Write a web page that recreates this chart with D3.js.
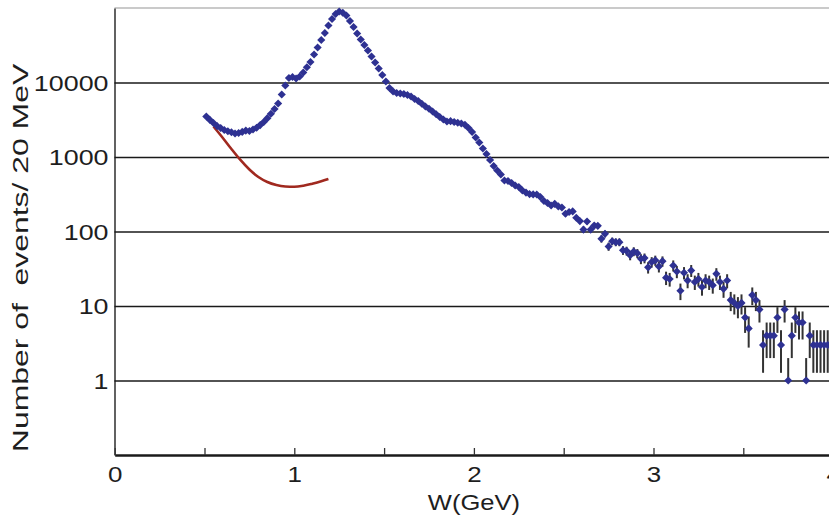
<!DOCTYPE html>
<html>
<head>
<meta charset="utf-8">
<script src="https://cdn.jsdelivr.net/npm/d3@7"></script>
<style>
  html, body { margin: 0; padding: 0; background: #fff; overflow: hidden; }
  svg { display: block; }
  text { font-family: "Liberation Sans", Arial, Helvetica, sans-serif; fill: #1e1e1e; }
</style>
</head>
<body>
<svg id="chart" width="829" height="516"></svg>
<script>
// Invariant-mass histogram, 20 MeV bins starting at W = 0.50 GeV (bin centres 0.51, 0.53, ...)
const firstBin = 0.51;
const binWidth = 0.02;
const counts = [
  3500, 3150, 2860, 2600, 2450, 2300, 2220, 2150, 2070, 2100,
  2170, 2260, 2230, 2340, 2470, 2680, 2950, 3320, 3800, 4410,
  5220, 6900, 9120, 11490, 11860, 11320, 12040, 13630, 16050, 18840,
  23760, 29500, 37170, 46150, 58210, 71140, 83030, 89740, 86240, 79290,
  66930, 55630, 45470, 37770, 31860, 26900, 22340, 18550, 15410, 12610,
  10310, 8440, 7570, 7230, 7120, 7010, 6800, 6490, 6010, 5650,
  5180, 4765, 4437, 4083, 3754, 3443, 3186, 2996, 3025, 2953,
  2886, 2817, 2705, 2449, 2166, 1828, 1566, 1301, 1097, 912,
  757, 659, 582, 484, 476, 448, 414, 395, 355, 333,
  318, 315, 314, 290, 257, 241, 223, 235, 217, 210,
  173, 183, 186, 153, 138, 106, 136, 106, 120, 119,
  80, 93, 63, 74, 72, 72, 56, 55, 48, 54,
  51, 43, 44, 33, 39, 41, 34, 40, 24, 23,
  35, 29, 16, 28, 22, 30, 21, 23, 18, 22,
  21, 19, 27, 21, 17, 22, 12, 11, 10, 11,
  7, 5, 14, 12, 9, 3, 4, 4, 4, 7,
  3, 9, 1, 4, 7, 6, 6, 1, 4, 3,
  3, 3, 3, 3
];

// Background estimate below 1.2 GeV
const curveW = [0.55, 0.60, 0.65, 0.70, 0.75, 0.80, 0.85, 0.90, 0.95, 1.00, 1.05, 1.10, 1.15, 1.19];
const curveN = [2570, 1830, 1280, 912, 679, 539, 462, 421, 402, 398, 411, 438, 472, 507];

const xTickValues = [0, 0.5, 1, 1.5, 2, 2.5, 3, 3.5, 4];
const yTickValues = [1, 10, 100, 1000, 10000];
const yLabels = ["1", "10", "100", "1000", "10000"];

const W = 829, H = 516;
const plotLeft = 114.5, plotBottom = 455, plotTop = 8;

const svg = d3.select("#chart");

const x = d3.scaleLinear().domain([0, 4]).range([114.7, 833.1]);
const y = d3.scaleLog().domain([0.1, 1e5]).range([plotBottom, plotTop]);

// top frame line
svg.append("line")
  .attr("x1", plotLeft).attr("x2", W)
  .attr("y1", y(1e5)).attr("y2", y(1e5))
  .attr("stroke", "#b8b8b8").attr("stroke-width", 1.5);

// y axis with full-width grid lines
const yAxis = svg.append("g")
  .attr("transform", `translate(${plotLeft},0)`)
  .call(d3.axisLeft(y)
    .tickValues(yTickValues)
    .tickSizeInner(-(W - plotLeft))
    .tickSizeOuter(0)
    .tickPadding(6)
    .tickFormat((d, i) => yLabels[i]));
yAxis.select(".domain").attr("stroke", "#3a3a3a").attr("stroke-width", 1.6);
yAxis.selectAll(".tick line").attr("stroke", "#1a1a1a").attr("stroke-width", 1.3);
yAxis.selectAll(".tick text")
  .attr("font-size", 22)
  .attr("fill", "#1e1e1e")
  .attr("dy", "0.36em");

// x axis with inward ticks
const xAxis = svg.append("g")
  .attr("transform", `translate(0,${plotBottom})`)
  .call(d3.axisBottom(x)
    .tickValues(xTickValues)
    .tickSizeInner(-7)
    .tickSizeOuter(0)
    .tickPadding(11)
    .tickFormat(d => Number.isInteger(d) ? String(d) : ""));
xAxis.select(".domain").attr("stroke", "#1a1a1a").attr("stroke-width", 2.6);
xAxis.selectAll(".tick line").attr("stroke", "#333").attr("stroke-width", 1.3);
xAxis.selectAll(".tick text")
  .attr("font-size", 22)
  .attr("fill", "#1e1e1e");

// the lettering is set wide; stretch the glyphs along the baseline
function widen(sel, factor) {
  sel.each(function () {
    const len = this.getComputedTextLength();
    if (len > 0) {
      d3.select(this)
        .attr("textLength", len * factor)
        .attr("lengthAdjust", "spacingAndGlyphs");
    }
  });
}
widen(yAxis.selectAll(".tick text"), 1.22);
widen(xAxis.selectAll(".tick text"), 1.18);

// axis titles
const xTitle = svg.append("text")
  .attr("x", x(2))
  .attr("y", 510)
  .attr("text-anchor", "middle")
  .attr("font-size", 22)
  .text("W(GeV)");
widen(xTitle, 1.16);

const yTitle = svg.append("text")
  .attr("transform", "translate(28,258) rotate(-90)")
  .attr("text-anchor", "middle")
  .attr("font-size", 22)
  .style("white-space", "pre")
  .text("Number of  events/ 20 MeV");
widen(yTitle, 1.45);

// background curve
svg.append("path")
  .datum(curveW.map((w, i) => [w, curveN[i]]))
  .attr("fill", "none")
  .attr("stroke", "#a0291f")
  .attr("stroke-width", 2.6)
  .attr("d", d3.line()
    .x(d => x(d[0]))
    .y(d => y(d[1]))
    .curve(d3.curveMonotoneX));

// data points with statistical error bars
const points = counts.map((n, i) => ({ w: firstBin + i * binWidth, n }));

svg.append("g")
  .selectAll("line")
  .data(points)
  .join("line")
  .attr("x1", d => x(d.w)).attr("x2", d => x(d.w))
  .attr("y1", d => {
    const lo = d.n - Math.sqrt(d.n);
    return y(lo > 0 ? lo : d.n);
  })
  .attr("y2", d => y(d.n + Math.sqrt(d.n)))
  .attr("stroke", "#333")
  .attr("stroke-width", 2);

const marker = d3.symbol(d3.symbolSquare, 33);
svg.append("g")
  .selectAll("path")
  .data(points)
  .join("path")
  .attr("d", marker)
  .attr("transform", d => `translate(${x(d.w)},${y(d.n)}) rotate(45)`)
  .attr("fill", "#2e3192");
</script>
</body>
</html>
